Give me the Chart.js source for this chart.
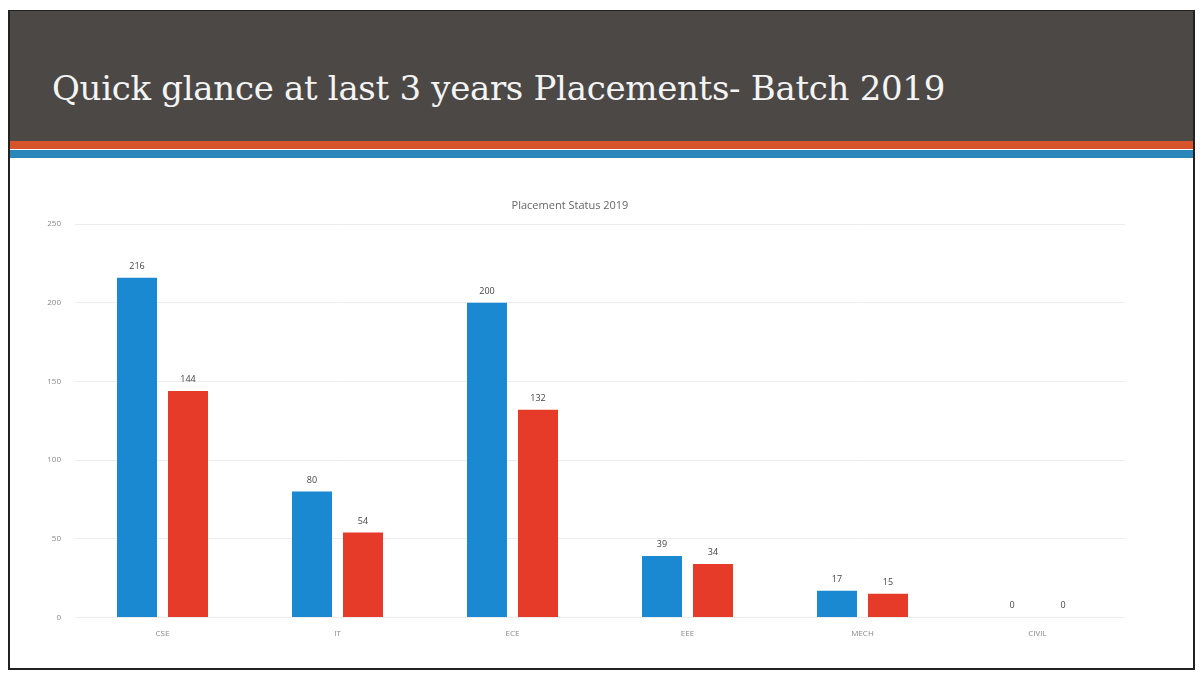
<!DOCTYPE html>
<html>
<head>
<meta charset="utf-8">
<script src="https://cdn.jsdelivr.net/npm/chart.js@4/dist/chart.umd.min.js"></script>
<style>
    html, body { margin: 0; padding: 0; background: #fff; }
    body { width: 1200px; height: 675px; position: relative; overflow: hidden; }
    .slide {
        position: absolute; left: 8px; top: 10px; width: 1187px; height: 660px;
        border: 2px solid #222; border-top-width: 1px; box-sizing: border-box; background: #fff;
    }
    .header {
        position: absolute; left: 0; top: 0; right: 0; height: 130px;
        background: #4b4846;
    }
    .header h1 {
        margin: 0; position: absolute; left: 42px; top: 57px;
        font-family: "DejaVu Serif", "Liberation Serif", serif;
        font-weight: normal; font-size: 34px; color: #f4f4f4;
        letter-spacing: -0.3px;
    }
    .stripe-orange { position: absolute; left: 0; right: 0; top: 130px; height: 8px; background: #d6532c; }
    .stripe-blue { position: absolute; left: 0; right: 0; top: 139px; height: 8px; background: #2b87b9; }
    .chart-box { position: absolute; left: 0; top: 150px; width: 1181px; height: 505px; }
</style>
</head>
<body>
<div class="slide">
    <div class="header"><h1>Quick glance at last 3 years Placements- Batch 2019</h1></div>
    <div class="stripe-orange"></div>
    <div class="stripe-blue"></div>
    <div class="chart-box"><canvas id="placement-chart"></canvas></div>
</div>
<script>
// Placement data
const branches = ['CSE', 'IT', 'ECE', 'EEE', 'MECH', 'CIVIL'];
const eligible = [216, 80, 200, 39, 17, 0];
const placed = [144, 54, 132, 34, 15, 0];
const yTicks = [0, 50, 100, 150, 200, 250];

// draws the value above each bar
const barValueLabels = {
    id: 'barValueLabels',
    afterDatasetsDraw(chart) {
        const ctx = chart.ctx;
        ctx.save();
        ctx.font = '9px "Open Sans", sans-serif';
        ctx.fillStyle = '#444';
        ctx.textAlign = 'center';
        ctx.textBaseline = 'bottom';
        chart.data.datasets.forEach((dataset, i) => {
            chart.getDatasetMeta(i).data.forEach((bar, j) => {
                ctx.fillText(dataset.data[j], bar.x, bar.y - 7);
            });
        });
        ctx.restore();
    }
};

new Chart(document.getElementById('placement-chart'), {
    type: 'bar',
    data: {
        labels: branches,
        datasets: [{
            label: 'Eligible',
            data: eligible,
            backgroundColor: '#1b88d2',
            categoryPercentage: 0.583,
            barPercentage: 0.784
        }, {
            label: 'Placed',
            data: placed,
            backgroundColor: '#e63b29',
            categoryPercentage: 0.583,
            barPercentage: 0.784
        }]
    },
    options: {
        responsive: true,
        maintainAspectRatio: false,
        animation: false,
        layout: {
            padding: { top: 38, right: 66, bottom: 23, left: 5 }
        },
        plugins: {
            legend: { display: false },
            tooltip: { enabled: false },
            title: {
                display: true,
                text: 'Placement Status 2019',
                color: '#666',
                font: { family: '"Open Sans", sans-serif', size: 11, weight: 'normal' },
                padding: { top: 0, bottom: 12 }
            }
        },
        scales: {
            x: {
                grid: { display: false },
                border: { display: false },
                ticks: {
                    color: '#888',
                    font: { family: '"Open Sans", sans-serif', size: 8 },
                    padding: 4
                }
            },
            y: {
                min: 0,
                max: 250,
                afterBuildTicks: (scale) => {
                    scale.ticks = yTicks.map(v => ({ value: v }));
                },
                afterFit: (scale) => { scale.width = 60; },
                grid: { color: '#ececec', drawTicks: false },
                border: { display: false },
                ticks: {
                    color: '#888',
                    font: { family: '"Open Sans", sans-serif', size: 8 },
                    padding: 14,
                    align: 'center'
                }
            }
        }
    },
    plugins: [barValueLabels]
});
</script>
</body>
</html>
